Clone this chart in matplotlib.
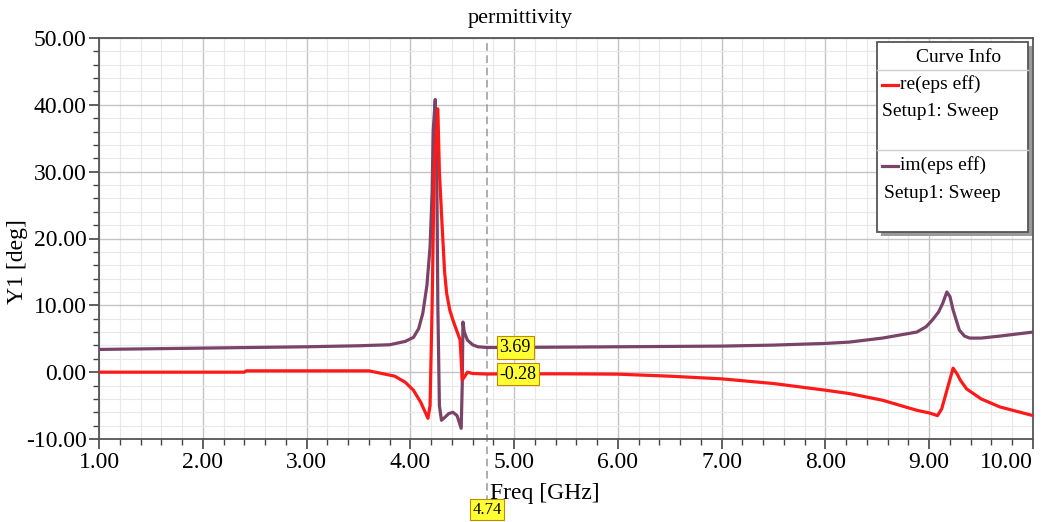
import matplotlib
matplotlib.use("Agg")
import matplotlib.pyplot as plt
from matplotlib.patches import Rectangle
from matplotlib.lines import Line2D
from matplotlib.ticker import MultipleLocator

plt.rcParams['font.family'] = ['Liberation Serif', 'DejaVu Serif']

x_ticks = [1, 2, 3, 4, 5, 6, 7, 8, 9, 10]
y_ticks = [-10, 0, 10, 20, 30, 40, 50]

# re(eps eff)
re_freq = [1.0, 2.0, 2.4, 2.42, 3.0, 3.6, 3.71, 3.85, 3.95, 4.03, 4.10, 4.17, 4.19,
           4.21, 4.23, 4.265, 4.28, 4.30, 4.33, 4.35, 4.38, 4.41, 4.48, 4.50, 4.53, 4.55,
           4.6, 4.74, 5.0, 5.5, 6.0, 6.5, 7.0, 7.5, 8.0, 8.23, 8.55, 8.88, 9.0, 9.08,
           9.12, 9.23, 9.27, 9.30, 9.36, 9.5, 9.68, 10.0]
re_vals = [0.0, 0.0, 0.0, 0.2, 0.2, 0.2, -0.15, -0.6, -1.5, -2.7, -4.5, -6.9, -5.0,
           10.0, 30.0, 39.4, 30.0, 23.8, 15.0, 11.8, 9.3, 7.8, 4.8, -1.2, -0.5, 0.0,
           -0.2, -0.28, -0.25, -0.25, -0.3, -0.6, -1.0, -1.7, -2.7, -3.2, -4.2, -5.7, -6.1, -6.5,
           -5.5, 0.6, -0.3, -1.2, -2.5, -4.0, -5.2, -6.5]

# im(eps eff)
im_freq = [1.0, 1.5, 2.0, 2.5, 3.0, 3.5, 3.8, 3.95, 4.03, 4.08, 4.12, 4.16, 4.19,
           4.21, 4.22, 4.24, 4.255, 4.265, 4.28, 4.30, 4.33, 4.37, 4.41, 4.45, 4.49,
           4.50, 4.507, 4.52, 4.55, 4.6, 4.65, 4.74, 5.0, 5.5, 6.0, 6.5, 7.0, 7.5,
           8.0, 8.23, 8.55, 8.88, 8.97, 9.03, 9.09, 9.13, 9.17, 9.20, 9.23, 9.29, 9.34,
           9.39, 9.5, 9.68, 10.0]
im_vals = [3.4, 3.5, 3.6, 3.7, 3.8, 3.95, 4.1, 4.6, 5.2, 6.5, 8.8, 13.0, 18.7,
           27.0, 36.0, 40.8, 30.0, 10.0, -5.0, -7.2, -6.8, -6.2, -6.0, -6.5, -8.4,
           -2.0, 7.5, 6.0, 4.8, 4.1, 3.8, 3.69, 3.7, 3.75, 3.8, 3.85, 3.9, 4.05,
           4.3, 4.5, 5.1, 6.0, 6.8, 7.8, 9.0, 10.3, 12.0, 11.3, 9.3, 6.3, 5.4,
           5.1, 5.1, 5.4, 6.0]

marker_freq = 4.74
marker_re = -0.28
marker_im = 3.69

RED = '#ff1a1a'
PURPLE = '#7a4468'
W, H = 1047, 522

fig = plt.figure(figsize=(10.47, 5.22), dpi=100)
ax = fig.add_axes([99 / W, 1 - 439 / H, (1033 - 99) / W, (439 - 38) / H])


def fx(px):
    return px / W


def fy(py):
    return 1 - py / H


ax.plot(re_freq, re_vals, color=RED, lw=2.3, zorder=4)
ax.plot(im_freq, im_vals, color=PURPLE, lw=2.3, zorder=3)

ax.set_xlim(1, 10)
ax.set_ylim(-10, 50)
ax.set_xticks(x_ticks)
ax.set_xticklabels([f'{t:.2f}' for t in x_ticks])
ax.set_yticks(y_ticks)
ax.set_yticklabels([f'{t:.2f}' for t in y_ticks])
ax.xaxis.set_minor_locator(MultipleLocator(0.2))
ax.yaxis.set_minor_locator(MultipleLocator(2))
ax.grid(which='major', color='#c4c4c4', lw=1.0)
ax.grid(which='minor', color='#e8e8e8', lw=0.8)
ax.set_axisbelow(True)
ax.tick_params(which='major', direction='out', length=7, width=1.2,
               color='#444444', labelsize=17, pad=2)
ax.tick_params(which='minor', direction='out', length=4, width=1.0, color='#444444')
for s in ax.spines.values():
    s.set_color('#555555')
    s.set_linewidth(1.3)
ax.get_xticklabels()[-1].set_horizontalalignment('right')

# marker line
ax.axvline(marker_freq, ymin=-0.16, ymax=1, color='#999999', lw=1.1,
           ls=(0, (5, 3)), clip_on=False, zorder=2)

box = dict(boxstyle='square,pad=0.15', fc='#ffff33', ec='#c08a00', lw=0.8)
ax.text(marker_freq + 0.12, marker_im, f'{marker_im:.2f}', fontsize=13,
        va='center', ha='left', bbox=box, zorder=6)
ax.text(marker_freq + 0.12, marker_re, f'{marker_re:.2f}', fontsize=13,
        va='center', ha='left', bbox=box, zorder=6)
ax.annotate(f'{marker_freq:.2f}', xy=(marker_freq, -10), xycoords='data',
            xytext=(0, -51), textcoords='offset points', fontsize=12,
            ha='center', va='center', bbox=box, annotation_clip=False)

fig.text(fx(520), fy(18), 'permittivity', fontsize=16, ha='center', va='center')
fig.text(fx(545), fy(493), 'Freq [GHz]', fontsize=17, ha='center', va='center')
fig.text(fx(18), fy(262), 'Y1 [deg]', fontsize=17, ha='center', va='center',
         rotation=90)

# Curve Info legend box
fig.add_artist(Rectangle((fx(881), fy(236)), fx(151), 190 / H, transform=fig.transFigure,
                         fc='#9a9a9a', ec='none', zorder=8))
fig.add_artist(Rectangle((fx(877), fy(232)), fx(151), 190 / H, transform=fig.transFigure,
                         fc='white', ec='#555555', lw=1.3, zorder=9))
fig.text(fx(959), fy(57), 'Curve Info', fontsize=14, ha='center', va='center', zorder=10)
fig.add_artist(Line2D([fx(877), fx(1028)], [fy(70), fy(70)], color='#cccccc', lw=1, zorder=10))
fig.add_artist(Line2D([fx(877), fx(1028)], [fy(150), fy(150)], color='#cccccc', lw=1, zorder=10))
fig.add_artist(Line2D([fx(882), fx(898)], [fy(85), fy(85)], color=RED, lw=2.3, zorder=10))
fig.text(fx(900), fy(84), 're(eps eff)', fontsize=14, ha='left', va='center', zorder=10)
fig.text(fx(882), fy(112), 'Setup1: Sweep', fontsize=14, ha='left', va='center', zorder=10)
fig.add_artist(Line2D([fx(882), fx(898)], [fy(166), fy(166)], color=PURPLE, lw=2.3, zorder=10))
fig.text(fx(900), fy(165), 'im(eps eff)', fontsize=14, ha='left', va='center', zorder=10)
fig.text(fx(884), fy(193), 'Setup1: Sweep', fontsize=14, ha='left', va='center', zorder=10)

fig.savefig('out.png', dpi=100)
